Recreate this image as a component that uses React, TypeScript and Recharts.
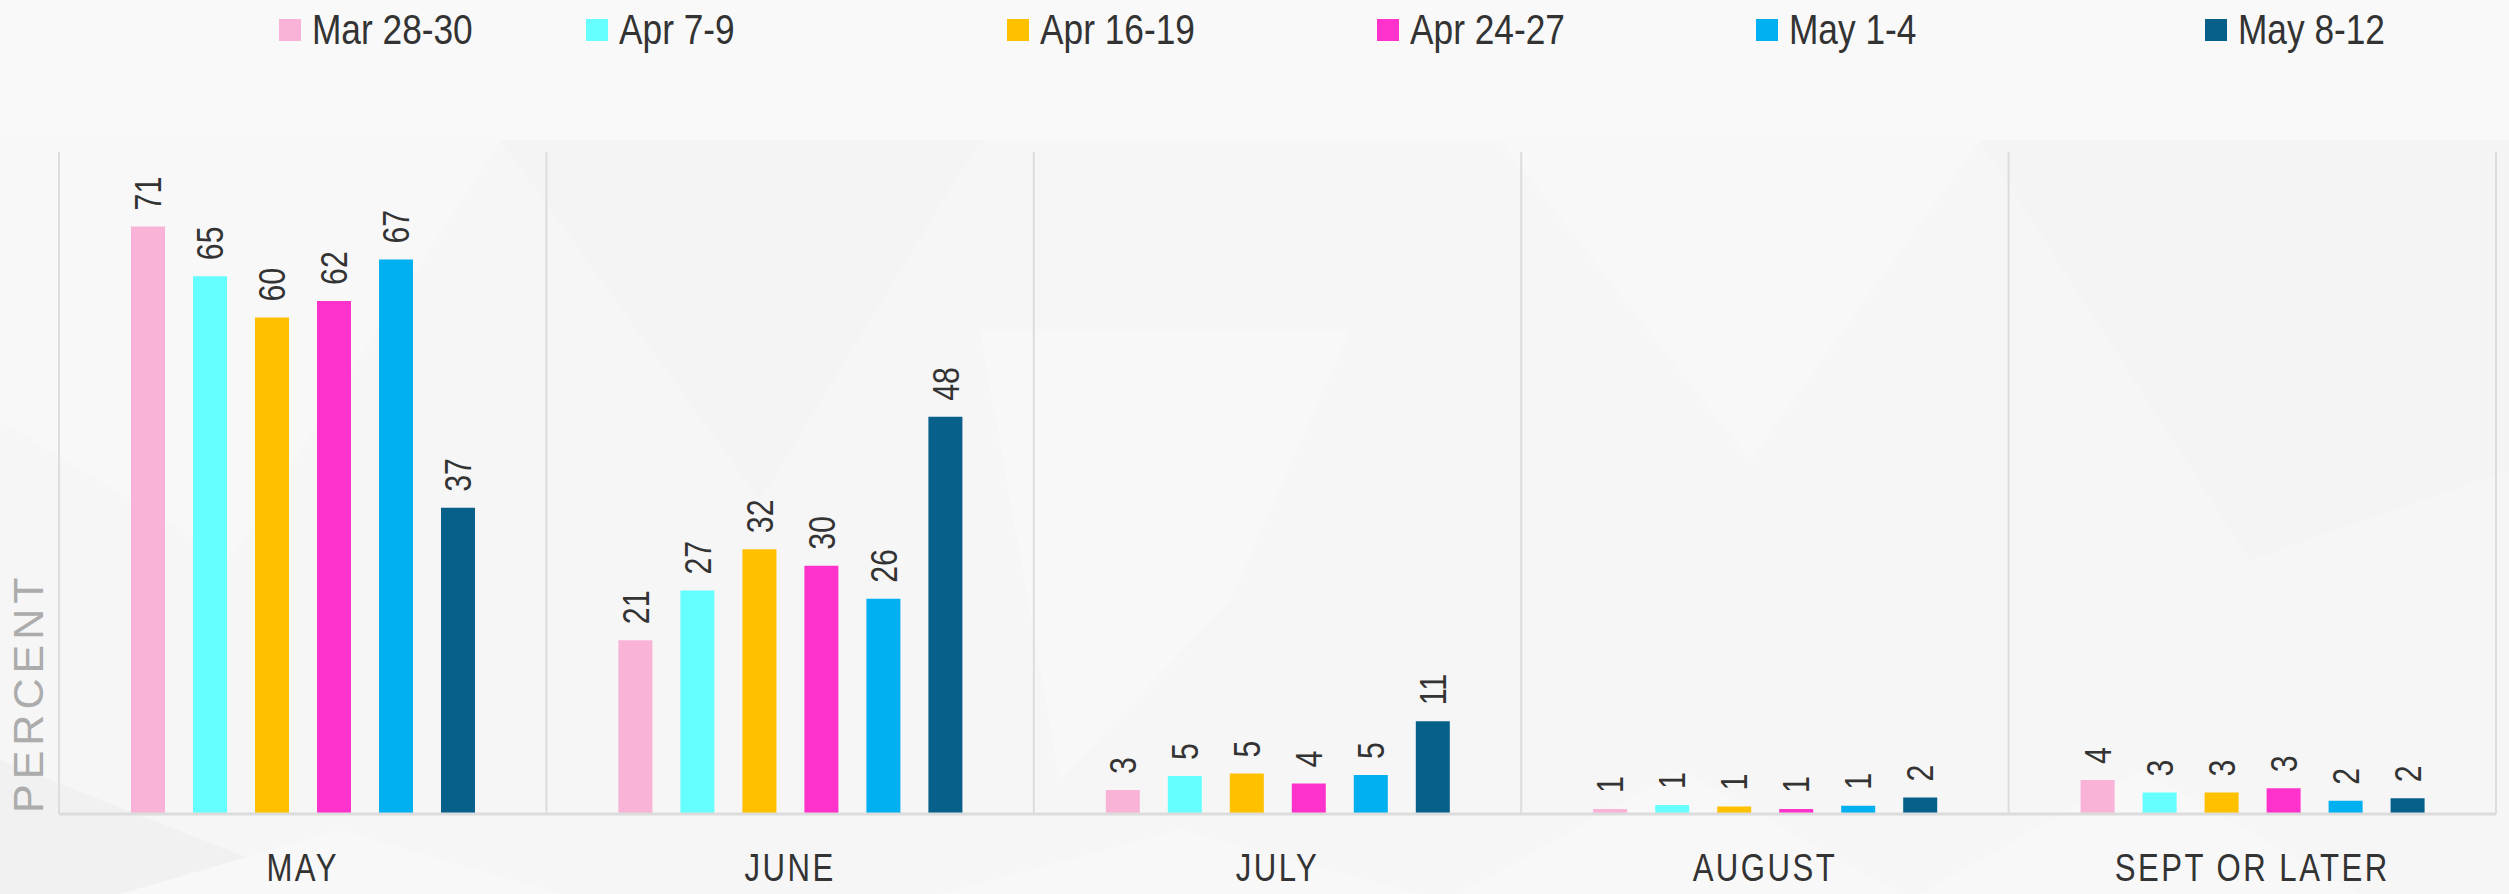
import { Bar, BarChart, CartesianGrid, LabelList, XAxis, YAxis } from "recharts";

const categories = ["MAY", "JUNE", "JULY", "AUGUST", "SEPT OR LATER"];
const waves = ["Mar 28-30", "Apr 7-9", "Apr 16-19", "Apr 24-27", "May 1-4", "May 8-12"];
const mar2830 = [71, 21, 2.9, 0.6, 4.1];
const apr79 = [65, 27, 4.6, 1.1, 2.6];
const apr1619 = [60, 32, 4.9, 0.9, 2.6];
const apr2427 = [62, 30, 3.7, 0.6, 3.1];
const may14 = [67, 26, 4.7, 1.0, 1.6];
const may812 = [37, 48, 11.2, 2.0, 1.9];

const seriesValues = [mar2830, apr79, apr1619, apr2427, may14, may812];
const colors = ["#f9b3d7", "#66ffff", "#ffc000", "#ff33cc", "#00b0f0", "#06608a"];
const legendWidths = [307, 421, 370, 379, 449, 300];

const FONT = "'Liberation Sans', Arial, sans-serif";
const NARROW = 0.82; // squeeze Liberation Sans into an Arial Narrow look

const data = categories.map((c, i) => {
  const row: Record<string, string | number> = { category: c };
  waves.forEach((w, s) => {
    row[w] = seriesValues[s][i];
  });
  return row;
});

function ValueLabel(props: any) {
  const { x, y, width, value } = props;
  const cx = x + width / 2;
  const cy = y - 16;
  return (
    <g transform={`translate(${cx},${cy}) rotate(-90) scale(${NARROW},1)`}>
      <text x={0} y={0} textAnchor="start" dominantBaseline="central" fontFamily={FONT} fontSize={37} fill="#333333">
        {Math.round(value)}
      </text>
    </g>
  );
}

function CategoryTick(props: any) {
  const { x, y, payload } = props;
  return (
    <g transform={`translate(${x},${y + 46}) scale(${NARROW},1)`}>
      <text
        x={0}
        y={0}
        textAnchor="middle"
        dominantBaseline="central"
        fontFamily={FONT}
        fontSize={38}
        letterSpacing={3}
        fill="#333333"
      >
        {payload.value}
      </text>
    </g>
  );
}

function TopLegend() {
  return (
    <div
      style={{
        position: "absolute",
        top: 8,
        left: 0,
        display: "flex",
        paddingLeft: 279,
        fontFamily: FONT,
        fontSize: 43,
        lineHeight: "43px",
        color: "#333333",
      }}
    >
      {waves.map((w, i) => (
        <div key={w} style={{ width: legendWidths[i], display: "flex", alignItems: "center" }}>
          <span style={{ width: 22, height: 22, background: colors[i], marginRight: 11, display: "inline-block" }} />
          <span style={{ display: "inline-block", transform: `scaleX(${NARROW})`, transformOrigin: "left center", whiteSpace: "nowrap" }}>
            {w}
          </span>
        </div>
      ))}
    </div>
  );
}

function Backdrop() {
  return (
    <svg width={2509} height={894} style={{ position: "absolute", left: 0, top: 0 }}>
      <rect width={2509} height={894} fill="#f6f6f6" />
      <rect width={2509} height={140} fill="#f9f9f9" />
      <polygon points="0,140 500,140 230,560 0,420" fill="#f8f8f8" />
      <polygon points="500,140 980,140 760,500" fill="#f4f4f4" />
      <polygon points="980,330 1350,330 1230,600 1060,780" fill="#f8f8f8" />
      <polygon points="1500,140 1980,140 1750,460" fill="#f8f8f8" />
      <polygon points="1980,140 2509,140 2509,470 2250,560" fill="#f4f4f4" />
      <polygon points="0,760 340,894 0,894" fill="#f1f1f1" />
      <polygon points="340,830 560,894 120,894" fill="#f8f8f8" />
      <polygon points="1180,830 1420,894 940,894" fill="#f8f8f8" />
      <polygon points="1680,770 1900,894 1460,894" fill="#f8f8f8" />
      <polygon points="2140,770 2360,894 1920,894" fill="#f8f8f8" />
    </svg>
  );
}

export default function App() {
  return (
    <div style={{ position: "absolute", left: 0, top: 0, width: 2509, height: 894, overflow: "hidden" }}>
      <Backdrop />
      <div style={{ position: "absolute", left: 0, top: 0 }}>
        <BarChart
          width={2509}
          height={894}
          data={data}
          margin={{ top: 152, right: 13, bottom: 50, left: 59 }}
          barSize={34}
          barGap={28}
        >
          <CartesianGrid
            horizontal={false}
            stroke="#dddddd"
            strokeWidth={2}
            verticalCoordinatesGenerator={({ offset }: any) =>
              categories
                .map((_, i) => offset.left + (i * offset.width) / categories.length)
                .concat(offset.left + offset.width)
            }
          />
          <XAxis
            dataKey="category"
            height={30}
            axisLine={{ stroke: "#dcdcdc", strokeWidth: 3 }}
            tickLine={false}
            tick={<CategoryTick />}
            interval={0}
          />
          <YAxis hide domain={[0, 80]} />
          <g transform="translate(28,813) rotate(-90)">
            <text
              x={0}
              y={0}
              textAnchor="start"
              dominantBaseline="central"
              fontFamily={FONT}
              fontSize={43}
              letterSpacing={5}
              fill="#acacac"
            >
              PERCENT
            </text>
          </g>
          {waves.map((w, i) => (
            <Bar key={w} dataKey={w} fill={colors[i]} isAnimationActive={false}>
              <LabelList dataKey={w} content={<ValueLabel />} />
            </Bar>
          ))}
        </BarChart>
      </div>
      <TopLegend />
    </div>
  );
}
